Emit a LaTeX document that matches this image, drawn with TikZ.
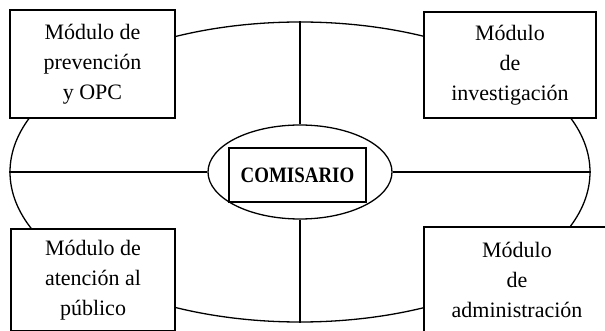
\documentclass[tikz,border=0pt]{standalone}
\usepackage{fontspec}
\setmainfont{Liberation Serif}
\usetikzlibrary{shapes.geometric}
\tikzset{
  modbox/.style={draw, line width=1.6pt, fill=white, inner sep=0pt, align=center,
    font=\fontsize{22}{30}\selectfont},
  ring/.style={draw, ellipse, line width=1.3pt, inner sep=0pt},
  link/.style={line width=1.3pt},
}
\begin{document}
\begin{tikzpicture}[x=1pt, y=-1pt]
\useasboundingbox (0,0) rectangle (605,331);
\clip (0,0) rectangle (605,331);
% outer ring and spokes
\node[ring, minimum width=580pt, minimum height=300pt] (outer) at (300,172) {};
\node[ring, minimum width=184pt, minimum height=94pt, fill=white] (inner) at (300,172) {};
\draw[link] (outer.north) -- (inner.north);
\draw[link] (inner.south) -- (outer.south);
\draw[link] (outer.west) -- (inner.west);
\draw[link] (inner.east) -- (outer.east);
\node[draw, line width=1.3pt, minimum width=137pt, minimum height=54pt, inner sep=0pt,
  font=\fontsize{22}{26}\selectfont\bfseries] (chief) at (297.5,175) {\scalebox{0.86}[1]{COMISARIO}};
% module boxes
\node[modbox, minimum width=165pt, minimum height=108pt] (prev) at (92.5,64)
  {Módulo de\\prevención\\y OPC};
\node[modbox, minimum width=172pt, minimum height=106pt] (inv) at (510,65)
  {Módulo\\de\\investigación};
\node[modbox, minimum width=164pt, minimum height=102pt] (aten) at (93,280)
  {Módulo de\\atención al\\público};
\node[modbox, minimum width=186pt, minimum height=106pt] (adm) at (517,280)
  {Módulo\\de\\administración};
\end{tikzpicture}
\end{document}
